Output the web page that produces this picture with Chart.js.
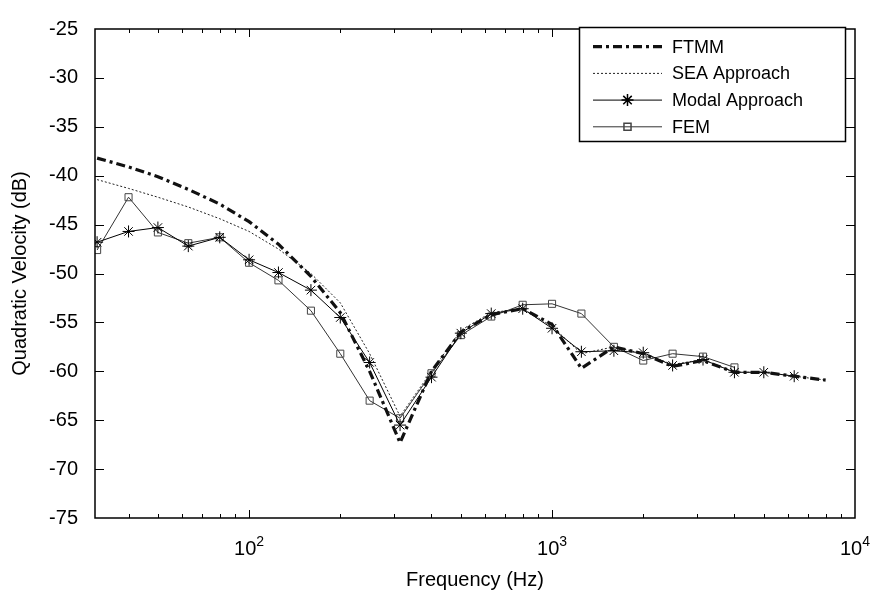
<!DOCTYPE html>
<html>
<head>
<meta charset="utf-8">
<script src="https://cdn.jsdelivr.net/npm/chart.js@4/dist/chart.umd.min.js"></script>
<style>
  html, body { margin: 0; padding: 0; background: #fff; }
  #wrap { width: 873px; height: 597px; }
</style>
</head>
<body>
<div id="wrap"><canvas id="c"></canvas></div>
<script>
// --- DATA (1/3 octave bands, dB) ---
const freqs = [31.5, 40, 50, 63, 80, 100, 125, 160, 200, 250, 315, 400, 500, 630, 800, 1000, 1250, 1600, 2000, 2500, 3150, 4000, 5000, 6300, 8000];
const ftmm  = [-38.2, -39.1, -40.1, -41.4, -42.9, -44.7, -47.0, -50.3, -54.0, -60.0, -67.3, -60.0, -56.0, -54.2, -53.6, -55.2, -59.7, -57.5, -58.2, -59.5, -58.9, -60.1, -60.1, -60.5, -60.9];
const sea   = [-40.4, -41.3, -42.2, -43.2, -44.4, -45.7, -47.5, -50.0, -53.0, -58.2, -64.6, -60.0, -55.8, -54.0, -53.6, -55.4, -58.2, -57.5, -58.2, -59.3, -58.8, -60.1, -60.1, -60.5, -60.9];
const modal = [-46.8, -45.7, -45.3, -47.2, -46.3, -48.6, -49.9, -51.7, -54.5, -59.1, -65.5, -60.6, -56.1, -54.1, -53.6, -55.6, -58.0, -57.9, -58.1, -59.4, -58.8, -60.1, -60.1, -60.5];
const fem   = [-47.6, -42.2, -45.8, -46.9, -46.3, -48.9, -50.7, -53.8, -58.2, -63.0, -64.8, -60.2, -56.3, -54.4, -53.2, -53.1, -54.1, -57.5, -58.9, -58.2, -58.5, -59.6];
const seriesNames = ['FTMM', 'SEA Approach', 'Modal Approach', 'FEM'];
const xTickVals = [40, 50, 60, 70, 80, 90, 100, 200, 300, 400, 500, 600, 700, 800, 900, 1000, 2000, 3000, 4000, 5000, 6000, 7000, 8000, 9000, 10000];
const sup = { 2: '2', 3: '3', 4: '4' };

const pts = (ys) => ys.map((v, i) => ({ x: freqs[i], y: v }));

Chart.defaults.font.family = '"Liberation Sans", Arial, sans-serif';
Chart.defaults.color = '#000';

// inward ticks, frame, 10^n labels, legend
const decor = {
  id: 'decor',
  afterDraw(chart) {
    const { ctx, chartArea: a, scales: { x, y } } = chart;
    ctx.save();
    ctx.strokeStyle = '#000';
    ctx.lineWidth = 1;
    ctx.beginPath();
    x.ticks.forEach(t => {
      const px = Math.round(x.getPixelForValue(t.value)) + 0.5;
      if (px <= a.left + 1 || px >= a.right - 1) return;
      const len = t.major ? 8 : 4;
      ctx.moveTo(px, a.bottom); ctx.lineTo(px, a.bottom - len);
      ctx.moveTo(px, a.top); ctx.lineTo(px, a.top + len);
    });
    y.ticks.forEach(t => {
      const py = Math.round(y.getPixelForValue(t.value)) + 0.5;
      if (py <= a.top + 1 || py >= a.bottom - 1) return;
      ctx.moveTo(a.left, py); ctx.lineTo(a.left + 9, py);
      ctx.moveTo(a.right, py); ctx.lineTo(a.right - 9, py);
    });
    ctx.stroke();
    ctx.lineWidth = 1.5;
    ctx.strokeRect(a.left, a.top, a.right - a.left, a.bottom - a.top);

    // x tick labels 10^n
    ctx.fillStyle = '#000';
    ctx.textBaseline = 'alphabetic';
    ctx.textAlign = 'left';
    x.ticks.filter(t => t.major).forEach(t => {
      const n = Math.round(Math.log10(t.value));
      const px = x.getPixelForValue(t.value);
      ctx.font = '20px "Liberation Sans", Arial, sans-serif';
      const wb = ctx.measureText('10').width;
      ctx.font = '14px "Liberation Sans", Arial, sans-serif';
      const we = ctx.measureText(sup[n]).width;
      const x0 = px - (wb + we) / 2;
      ctx.font = '20px "Liberation Sans", Arial, sans-serif';
      ctx.fillText('10', x0, a.bottom + 37);
      ctx.font = '14px "Liberation Sans", Arial, sans-serif';
      ctx.fillText(sup[n], x0 + wb, a.bottom + 28);
    });

    // legend
    const lx = 579.5, ly = 27.5, lw = 266, lh = 114;
    ctx.fillStyle = '#fff';
    ctx.fillRect(lx, ly, lw, lh);
    ctx.lineWidth = 1.5;
    ctx.strokeStyle = '#000';
    ctx.strokeRect(lx, ly, lw, lh);
    ctx.font = '18px "Liberation Sans", Arial, sans-serif';
    ctx.textBaseline = 'middle';
    chart.data.datasets.forEach((ds, i) => {
      const cy = 46.7 + i * 26.7;
      ctx.save();
      ctx.strokeStyle = ds.borderColor;
      ctx.lineWidth = ds.borderWidth;
      ctx.setLineDash(ds.borderDash || []);
      ctx.beginPath();
      ctx.moveTo(593, cy); ctx.lineTo(662, cy);
      ctx.stroke();
      ctx.restore();
      if (ds.pointRadius > 0) {
        ctx.save();
        ctx.strokeStyle = ds.pointBorderColor;
        ctx.fillStyle = ds.pointBackgroundColor;
        Chart.helpers.drawPoint(ctx, { pointStyle: ds.pointStyle, radius: ds.pointRadius, rotation: 0, borderWidth: ds.pointBorderWidth }, 627.5, cy);
        ctx.restore();
      }
      ctx.fillStyle = '#000';
      ctx.fillText(ds.label, 672, cy + 1);
    });
    ctx.restore();
  }
};

new Chart(document.getElementById('c'), {
  type: 'line',
  data: {
    datasets: [
      { label: seriesNames[0], data: pts(ftmm), borderColor: '#111', borderWidth: 3.2, borderDash: [9, 4, 3, 4], pointRadius: 0, tension: 0 },
      { label: seriesNames[1], data: pts(sea), borderColor: '#222', borderWidth: 1, borderDash: [2, 2], pointRadius: 0, tension: 0 },
      { label: seriesNames[2], data: pts(modal), borderColor: '#000', borderWidth: 1, pointStyle: 'star', pointRadius: 6, pointBorderColor: '#000', pointBackgroundColor: '#000', pointBorderWidth: 1, tension: 0 },
      { label: seriesNames[3], data: pts(fem), borderColor: '#333', borderWidth: 1, pointStyle: 'rect', pointRadius: 5, pointBorderColor: '#444', pointBackgroundColor: 'rgba(0,0,0,0)', pointBorderWidth: 1, tension: 0 }
    ]
  },
  options: {
    responsive: true,
    maintainAspectRatio: false,
    animation: false,
    layout: { padding: { top: 18, right: 18, left: 0, bottom: 0 } },
    plugins: { legend: { display: false }, tooltip: { enabled: false } },
    scales: {
      x: {
        type: 'logarithmic',
        min: 31,
        max: 10000,
        afterBuildTicks: (s) => { s.ticks = xTickVals.map(v => ({ value: v, major: [100, 1000, 10000].includes(v) })); },
        afterFit: (s) => { s.height = 79; },
        ticks: { display: false },
        grid: { display: false, drawTicks: false },
        border: { display: false },
        title: { display: true, text: 'Frequency (Hz)', font: { size: 20 }, padding: { top: 0, bottom: 5 } }
      },
      y: {
        min: -75,
        max: -25,
        ticks: { stepSize: 5, font: { size: 20 }, padding: 17, color: '#000' },
        afterFit: (s) => { s.width = 95; },
        grid: { display: false, drawTicks: false },
        border: { display: false },
        title: { display: true, text: 'Quadratic Velocity (dB)', font: { size: 20 }, padding: { top: 8, bottom: 0 } }
      }
    }
  },
  plugins: [decor]
});
</script>
</body>
</html>
